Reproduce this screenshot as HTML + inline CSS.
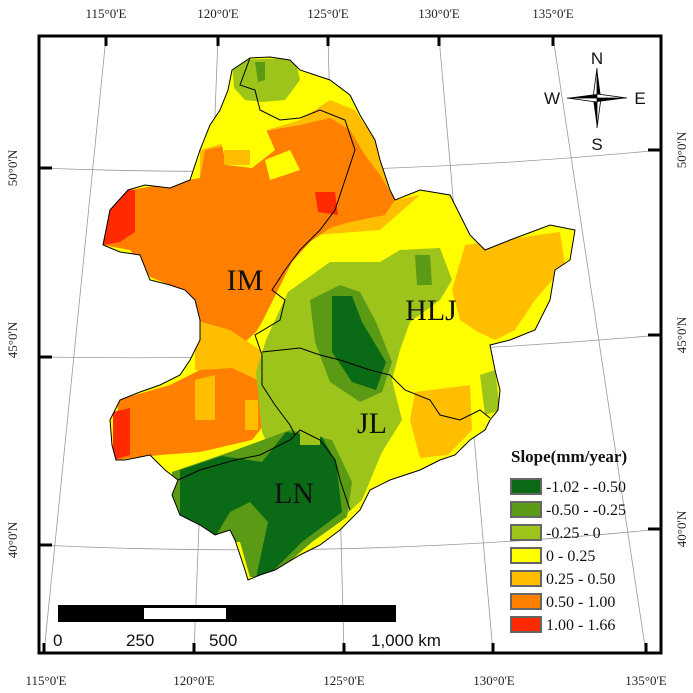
<!DOCTYPE html>
<html><head><meta charset="utf-8"><style>
html,body{margin:0;padding:0;background:#fff;}
svg{display:block}
.t{font-family:"Liberation Serif",serif;font-size:13px;fill:#222}
.s{font-family:"Liberation Sans",sans-serif;}
</style></head><body>
<svg width="693" height="693" viewBox="0 0 693 693" xmlns="http://www.w3.org/2000/svg">
<defs>
<clipPath id="land"><path id="outl" d="M232,70 L250,58 L270,57 L290,60 L300,70 L330,80 L350,95 L360,115 L375,140 L380,160 L390,190 L395,200 L420,190 L450,195 L460,215 L470,235 L485,250 L510,240 L550,225 L575,230 L570,260 L555,270 L550,300 L535,330 L510,340 L490,345 L495,370 L500,390 L498,410 L490,420 L485,430 L470,440 L455,455 L440,460 L420,470 L390,480 L370,490 L360,510 L340,530 L320,545 L300,555 L275,570 L260,575 L248,580 L245,570 L240,555 L235,540 L230,530 L215,535 L200,525 L180,515 L172,495 L178,480 L165,470 L150,455 L125,460 L116,460 L112,445 L110,420 L120,400 L140,392 L160,385 L180,375 L190,360 L200,340 L200,320 L195,300 L185,290 L170,285 L150,280 L140,255 L120,252 L103,245 L110,210 L128,190 L145,185 L170,188 L190,180 L195,165 L200,150 L210,125 L220,110 L228,90 Z"/></clipPath>
</defs>
<g stroke="#999" stroke-width="0.8" fill="none">
<path d="M106,37 L44,653"/><path d="M218,37 L194,653"/><path d="M328,37 L344,653"/><path d="M439,37 L493,653"/><path d="M553,37 L646,653"/>
<path d="M39,168 Q350,180 661,150"/><path d="M39,357 Q350,362 661,335"/><path d="M39,545 Q350,560 661,529"/>
</g>
<g clip-path="url(#land)">
<rect x="90" y="40" width="500" height="560" fill="#ffff00"/>
<path d="M232,60 L295,58 L300,80 L285,100 L262,102 L245,100 L234,88 Z" fill="#9dc41a"/>
<path d="M255,62 L265,62 L265,80 L258,82 Z" fill="#5a9a14"/>
<path d="M200,150 L235,140 L300,120 L330,100 L355,110 L375,140 L395,200 L420,195 L380,230 L250,240 L200,230 Z" fill="#ffbf00"/>
<path d="M103,215 L130,190 L200,178 L205,150 L230,145 L260,132 L300,125 L330,118 L350,130 L365,155 L380,175 L395,200 L385,215 L350,222 L330,228 L310,242 L292,262 L282,282 L272,302 L262,322 L256,332 L245,342 L230,348 L210,352 L204,330 L190,300 L175,287 L150,277 L130,250 L103,245 Z" fill="#ff7f00"/>
<path d="M218,125 L262,120 L275,150 L252,168 L226,165 Z M290,150 L300,170 L270,180 L265,160 Z" fill="#ffff00"/>
<path d="M224,150 L250,150 L250,165 L224,165 Z" fill="#ffbf00"/>
<path d="M103,210 L120,190 L135,190 L135,232 L120,242 L103,245 Z" fill="#ff2a00"/>
<path d="M315,192 L335,192 L338,215 L318,212 Z" fill="#ff2a00"/>
<path d="M195,320 L230,330 L260,350 L265,380 L230,375 L195,370 Z" fill="#ffbf00"/>
<path d="M118,400 L170,385 L200,370 L232,368 L262,382 L268,420 L252,440 L200,452 L160,455 L116,460 Z" fill="#ff7f00"/>
<path d="M195,380 L215,375 L215,420 L195,420 Z M245,400 L258,400 L258,430 L245,430 Z" fill="#ffbf00"/>
<path d="M113,412 L130,408 L130,455 L113,460 Z" fill="#ff2a00"/>
<path d="M465,245 L560,232 L565,265 L535,300 L515,330 L495,340 L478,332 L460,320 L452,290 Z" fill="#ffbf00"/>
<path d="M415,392 L470,385 L472,430 L448,455 L420,458 L410,420 Z" fill="#ffbf00"/>
<path d="M288,292 L330,262 L380,262 L400,250 L440,248 L452,280 L440,300 L410,322 L400,350 L392,380 L402,420 L382,452 L362,500 L340,520 L300,512 L280,472 L262,432 L256,372 L266,340 Z" fill="#9dc41a"/>
<path d="M480,375 L495,370 L500,410 L485,415 Z" fill="#9dc41a"/>
<path d="M310,300 L340,285 L360,292 L376,322 L392,362 L382,392 L360,402 L330,382 L315,342 Z" fill="#5a9a14"/>
<path d="M415,255 L430,255 L432,285 L417,285 Z" fill="#5a9a14"/>
<path d="M332,296 L352,296 L362,322 L386,362 L376,390 L352,382 L332,352 Z" fill="#0b6a15"/>
<path d="M172,472 L230,452 L290,430 L332,440 L352,482 L347,517 L312,542 L272,577 L250,577 L240,542 L200,542 L168,522 Z" fill="#5a9a14"/>
<path d="M180,470 L222,456 L262,462 L286,432 L322,437 L336,462 L342,512 L302,542 L272,572 L256,578 L268,522 L250,502 L230,512 L212,542 L180,532 Z" fill="#0b6a15"/>
<path d="M300,430 L320,430 L320,445 L300,445 Z" fill="#9dc41a"/>
</g>
<use href="#outl" fill="none" stroke="#000" stroke-width="1"/>
<g fill="none" stroke="#000" stroke-width="1">
<path d="M250,58 L240,85 L255,90 L260,110 L280,120 L300,118 L320,110 L345,120 L355,150 L345,180 L335,210 L320,230 L300,250 L285,270 L272,290 L285,300 L280,320 L255,335 L262,355 L262,385 L275,405 L290,425 L295,435"/>
<path d="M262,352 L300,348 L320,355 L340,360 L370,370 L390,375 L405,390 L430,400 L440,415 L460,420 L480,410 L490,418"/>
<path d="M178,480 L200,470 L235,460 L260,455 L290,440 L300,430 L320,440 L335,460 L340,480 L350,510"/>
</g>
<rect x="39" y="36" width="622" height="617" fill="none" stroke="#000" stroke-width="3"/>
<g stroke="#000" stroke-width="3">
<line x1="106" y1="36" x2="106" y2="46"/><line x1="218" y1="36" x2="218" y2="46"/><line x1="328" y1="36" x2="328" y2="46"/><line x1="439" y1="36" x2="439" y2="46"/><line x1="553" y1="36" x2="553" y2="46"/>
<line x1="44" y1="653" x2="44" y2="643"/><line x1="194" y1="653" x2="194" y2="643"/><line x1="344" y1="653" x2="344" y2="643"/><line x1="493" y1="653" x2="493" y2="643"/><line x1="646" y1="653" x2="646" y2="643"/>
<line x1="39" y1="168" x2="52" y2="168"/><line x1="39" y1="357" x2="52" y2="357"/><line x1="39" y1="545" x2="52" y2="545"/>
<line x1="661" y1="150" x2="648" y2="150"/><line x1="661" y1="335" x2="648" y2="335"/><line x1="661" y1="529" x2="648" y2="529"/>
</g>
<g class="t" text-anchor="middle">
<text x="106" y="18">115°0'E</text><text x="218" y="18">120°0'E</text><text x="328" y="18">125°0'E</text><text x="439" y="18">130°0'E</text><text x="553" y="18">135°0'E</text>
<text x="46" y="685">115°0'E</text><text x="194" y="685">120°0'E</text><text x="344" y="685">125°0'E</text><text x="494" y="685">130°0'E</text><text x="646" y="685">135°0'E</text>
<text transform="translate(17,168) rotate(-90)">50°0'N</text><text transform="translate(17,340) rotate(-90)">45°0'N</text><text transform="translate(17,540) rotate(-90)">40°0'N</text>
<text transform="translate(686,150) rotate(-90)">50°0'N</text><text transform="translate(686,335) rotate(-90)">45°0'N</text><text transform="translate(686,529) rotate(-90)">40°0'N</text>
</g>
<g font-family="Liberation Serif, serif" font-size="30" fill="#111" text-anchor="middle">
<text x="245" y="290">IM</text><text x="431" y="320">HLJ</text><text x="372" y="433">JL</text><text x="294" y="503">LN</text>
</g>
<g>
<polygon points="597,68 601,98 597,98" fill="#000"/><polygon points="597,68 593,98 597,98" fill="#fff" stroke="#000" stroke-width="0.8"/>
<polygon points="597,128 593,98 597,98" fill="#000"/><polygon points="597,128 601,98 597,98" fill="#fff" stroke="#000" stroke-width="0.8"/>
<polygon points="567,98 597,94 597,98" fill="#000"/><polygon points="567,98 597,102 597,98" fill="#fff" stroke="#000" stroke-width="0.8"/>
<polygon points="627,98 597,102 597,98" fill="#000"/><polygon points="627,98 597,94 597,98" fill="#fff" stroke="#000" stroke-width="0.8"/>
<g class="s" font-size="17" text-anchor="middle" fill="#111">
<text x="597" y="64">N</text><text x="597" y="150">S</text><text x="552" y="104">W</text><text x="640" y="104">E</text></g>
</g>
<rect x="58" y="605" width="338" height="17" fill="#000"/>
<rect x="144" y="608" width="82" height="11" fill="#fff"/>
<g class="s" font-size="17" fill="#111">
<text x="53" y="646">0</text><text x="126" y="646">250</text><text x="209" y="646">500</text><text x="371" y="646">1,000 km</text></g>
<text x="511" y="462" font-family="Liberation Serif, serif" font-weight="bold" font-size="17" fill="#111">Slope(mm/year)</text>
<g stroke="#666" stroke-width="2">
<rect x="511" y="479" width="30" height="15" fill="#0b6a15"/>
<rect x="511" y="502" width="30" height="15" fill="#5a9a14"/>
<rect x="511" y="525" width="30" height="15" fill="#9dc41a"/>
<rect x="511" y="548" width="30" height="15" fill="#ffff00"/>
<rect x="511" y="571" width="30" height="15" fill="#ffbf00"/>
<rect x="511" y="594" width="30" height="15" fill="#ff7f00"/>
<rect x="511" y="617" width="30" height="15" fill="#ff2a00"/>
</g>
<g font-family="Liberation Serif, serif" font-size="16" fill="#111">
<text x="546" y="492">-1.02 - -0.50</text><text x="546" y="515">-0.50 - -0.25</text><text x="546" y="538">-0.25 - 0</text><text x="546" y="561">0 - 0.25</text><text x="546" y="584">0.25 - 0.50</text><text x="546" y="607">0.50 - 1.00</text><text x="546" y="630">1.00 - 1.66</text>
</g>
</svg>
</body></html>
